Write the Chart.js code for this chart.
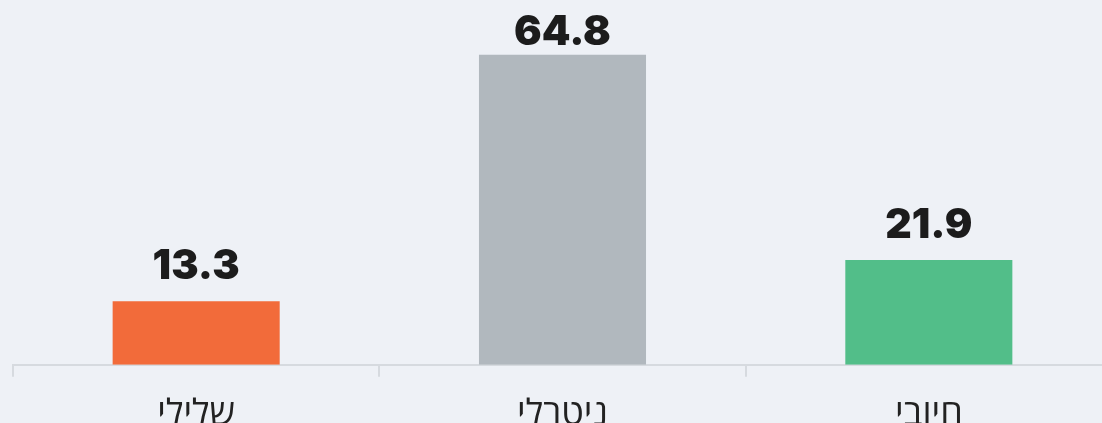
<!DOCTYPE html>
<html>
<head>
<meta charset="utf-8">
<script src="https://cdn.jsdelivr.net/npm/chart.js@4"></script>
<style>
  html, body { margin: 0; padding: 0; background: #eef1f6; overflow: hidden; }
  #chart_container { position: relative; width: 1112px; height: 452px; }
</style>
</head>
<body>
<div id="chart_container"><canvas id="myBarChart"></canvas></div>
<script>
// Sentiment shares (percent)
const categories = ['שלילי', 'ניטרלי', 'חיובי'];
const values = [13.3, 64.8, 21.9];
const bar_colors = ['#f26b3a', '#b1b8be', '#52be89'];

// Draws the value above each bar, kept inside the top of the canvas
const value_labels = {
    id: 'value_labels',
    afterDatasetsDraw(chart) {
        const ctx = chart.ctx;
        const meta = chart.getDatasetMeta(0);
        ctx.save();
        ctx.font = '900 41px Inter';
        ctx.fillStyle = '#1c1c1c';
        ctx.textAlign = 'center';
        ctx.textBaseline = 'alphabetic';
        meta.data.forEach((bar, i) => {
            let base = Math.max(bar.y - 22, chart.chartArea.top + 15);
            ctx.fillText(values[i].toFixed(1), bar.x, base);
        });
        ctx.restore();
    }
};

const ctx = document.getElementById('myBarChart').getContext('2d');
const myChart = new Chart(ctx, {
    type: 'bar',
    data: {
        labels: categories,
        datasets: [{
            data: values,
            backgroundColor: bar_colors,
            borderWidth: 0,
            categoryPercentage: 0.456,
            barPercentage: 1
        }]
    },
    options: {
        responsive: true,
        maintainAspectRatio: false,
        animation: false,
        layout: { padding: { left: 13, top: 30, right: 0, bottom: 0 } },
        plugins: {
            legend: { display: false },
            tooltip: { enabled: false }
        },
        scales: {
            x: {
                grid: {
                    display: true,
                    drawOnChartArea: false,
                    offset: true,
                    tickLength: 12,
                    color: '#d6dadf',
                    lineWidth: 2
                },
                border: { display: true, color: '#d6dadf', width: 2 },
                ticks: {
                    color: '#222222',
                    padding: 16,
                    font: { family: 'Open Sans', size: 36 }
                }
            },
            y: {
                display: false,
                min: 0,
                max: 70
            }
        }
    },
    plugins: [value_labels]
});
</script>
</body>
</html>
